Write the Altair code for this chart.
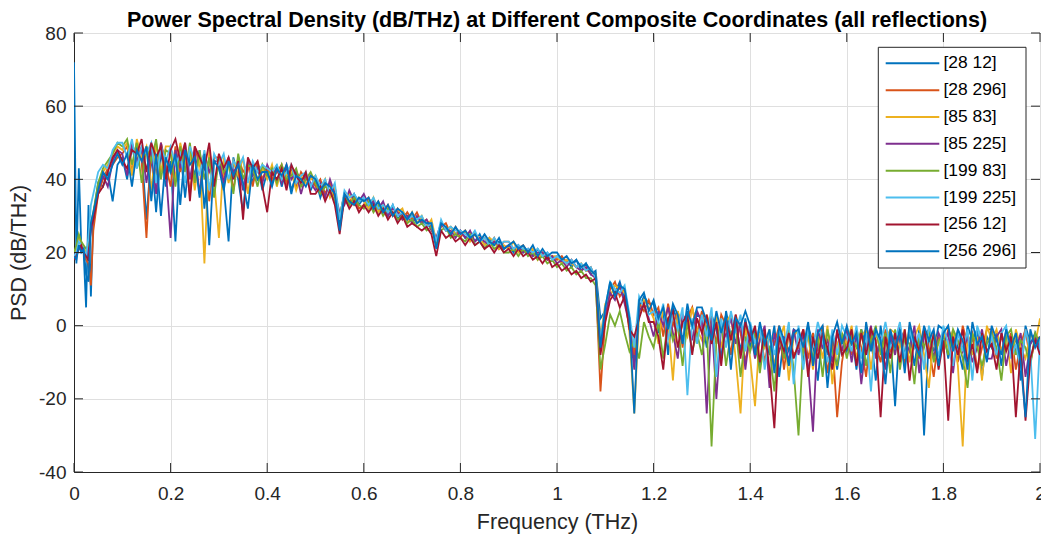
import altair as alt
import pandas as pd

NAMES = ["[28 12]", "[28 296]", "[85 83]", "[85 225]", "[199 83]", "[199 225]", "[256 12]", "[256 296]"]
COLORS = ["#0072BD", "#D95319", "#EDB120", "#7E2F8E", "#77AC30", "#4DBEEE", "#A2142F", "#0072BD"]

# frequency grid (THz): fine steps near DC, then 0.01 THz
FREQ = [round(i * 0.005, 3) for i in range(9)] + [round(0.05 + i * 0.01, 2) for i in range(196)]

X_TICKS = [0, 0.2, 0.4, 0.6, 0.8, 1.0, 1.2, 1.4, 1.6, 1.8, 2.0]
Y_TICKS = [-40, -20, 0, 20, 40, 60, 80]

# PSD values (dB/THz)
S1 = [72, 17, 43, 22, 20, 5, 33, 8, 30, 39, 38, 42, 34, 44,
      46, 40, 49, 43, 48, 29, 47, 31, 48, 38,
      45, 23, 48, 35, 47, 41, 48, 32, 46, 39,
      44, 38, 23, 46, 40, 31, 45, 39, 44, 37,
      42, 39, 44, 38, 43, 36, 42, 40, 41, 37,
      40, 35, 39, 36, 38, 27, 35, 33, 36, 33,
      35, 32, 34, 31, 33, 30, 33, 29, 31, 30,
      30, 28, 29, 27, 28, 22, 28, 26, 27, 25,
      26, 24, 25, 23, 25, 22, 24, 22, 23, 21,
      22, 20, 22, 20, 21, 19, 21, 19, 20, 18,
      19, 17, 18, 16, 18, 15, 17, 14, 15, 2,
      4, 11, 9, 12, 7, 2, -10, 5, 8, 6,
      6, -2, 4, -8, 5, 1, -4, 6, -1, 3,
      2, -6, 3, -1, -9, 4, -3, 1, -7, 2,
      -6, -1, -11, -2, -8, 0, -14, -3, -7, -1,
      -2, -10, 0, -5, -15, -1, -8, -2, -12, -3,
      -7, -2, -12, -1, -6, -3, -15, 0, -9, -2,
      -22, 0, -8, -2, -11, -1, -30, -3, -7, 0,
      -1, -9, -2, -6, -12, 0, -4, -1, -14, -3,
      -6, -2, -11, -1, -8, -3, -15, 0, -5, -2, -7]

S2 = [19, 20, 21, 22, 20, 18, 17, 11, 26, 36, 40, 43, 44, 46,
      47, 49, 42, 50, 45, 24, 49, 41, 50, 44,
      38, 49, 42, 48, 36, 49, 44, 47, 34, 46,
      46, 41, 45, 37, 46, 42, 44, 38, 45, 40,
      43, 40, 42, 44, 39, 43, 38, 42, 40, 41,
      38, 40, 36, 39, 35, 30, 36, 34, 35, 32,
      33, 35, 32, 34, 31, 33, 30, 32, 29, 31,
      29, 31, 28, 29, 27, 24, 27, 28, 25, 27,
      24, 26, 24, 25, 23, 24, 22, 24, 21, 23,
      23, 21, 21, 22, 20, 21, 19, 20, 18, 19,
      18, 19, 17, 18, 16, 17, 15, 16, 13, -18,
      2, 10, 12, 8, 10, 1, -8, 6, 4, 7,
      3, 5, -3, 6, 0, 4, -6, 2, 5, -2,
      4, -1, 2, -5, 3, 0, -8, 3, -2, -10,
      -2, -7, -1, -10, -3, -5, 0, -12, -2, -8,
      -6, -1, -9, -2, -7, 0, -13, -4, -25, -10,
      -2, -8, -1, -6, -14, -2, -5, -10, -1, -7,
      -5, -2, -11, 0, -4, -9, -1, -6, -14, -3,
      -7, -1, -4, -10, 0, -5, -2, -12, -6, -1,
      -1, -9, -3, -6, -2, -12, -5, -1, -10, -4, -3]

S3 = [20, 21, 24, 23, 21, 20, 22, 27, 30, 38, 42, 44, 47, 49,
      48, 50, 41, 51, 46, 49, 37, 50, 42, 49,
      49, 40, 50, 44, 48, 37, 47, 17, 48, 40,
      24, 46, 39, 45, 41, 46, 36, 44, 40, 43,
      40, 44, 38, 43, 41, 42, 37, 41, 39, 40,
      41, 37, 40, 35, 38, 29, 34, 36, 33, 35,
      34, 32, 35, 31, 33, 32, 30, 31, 32, 28,
      31, 28, 30, 27, 29, 23, 28, 26, 27, 25,
      25, 26, 23, 25, 24, 22, 24, 23, 21, 22,
      21, 23, 20, 21, 20, 21, 18, 20, 19, 19,
      19, 17, 18, 17, 16, 17, 15, 15, 14, -3,
      6, 8, 11, 10, 9, -2, -24, 3, 7, 5,
      2, -5, 5, 1, -15, 4, 0, -3, 5, -1,
      -4, 3, -1, 2, -6, 1, 3, -9, -24, 0,
      -9, -22, -2, -6, -1, -11, -4, 0, -15, -3,
      -1, -7, -3, -12, -2, -9, 0, -16, -5, -2,
      -5, 0, -9, -3, -1, -12, -2, -7, -4, -1,
      -2, -6, -1, -10, -3, 0, -8, -17, -2, -5,
      -2, -6, -1, -11, -33, -2, -8, -3, -15, 0,
      -4, -1, -7, -2, -13, -1, -6, -9, -2, -5, 2]

S4 = [19, 20, 22, 21, 20, 19, 21, 26, 29, 37, 41, 38, 45, 48,
      47, 41, 50, 45, 49, 39, 48, 36, 50, 43,
      24, 48, 43, 50, 40, 48, 36, 47, 42, 45,
      45, 39, 46, 42, 44, 37, 45, 41, 43, 39,
      44, 41, 43, 39, 44, 40, 42, 36, 41, 39,
      37, 39, 35, 40, 36, 31, 33, 37, 34, 34,
      36, 33, 34, 32, 34, 30, 32, 31, 29, 30,
      28, 30, 28, 29, 26, 24, 28, 26, 26, 24,
      26, 24, 26, 23, 24, 23, 22, 23, 22, 21,
      22, 21, 22, 20, 21, 19, 20, 20, 18, 19,
      17, 18, 16, 18, 16, 15, 16, 14, 13, -5,
      3, 9, 7, 11, 6, 0, -12, 4, 6, 2,
      -3, 4, 0, 5, -2, -9, 3, 1, -4, 4,
      1, -24, 2, -20, 0, -3, 2, -5, 1, -12,
      -1, -9, -4, 0, -17, -2, -7, -3, -10, -1,
      -8, -2, -11, -29, -1, -6, -4, -10, -2, -7,
      -1, -10, -2, -16, -5, 0, -9, -3, -12, -2,
      -8, -1, -4, -7, 0, -13, -3, -1, -9, -2,
      -5, -2, -13, -1, -7, -3, -10, -6, -1, -9,
      -9, -3, -1, -11, -4, -7, -2, -14, -5, -3, -6]

S5 = [20, 22, 25, 23, 22, 21, 22, 28, 31, 39, 43, 45, 47, 50,
      49, 51, 44, 50, 39, 49, 45, 51, 40, 48,
      47, 38, 49, 42, 50, 39, 48, 40, 46, 35,
      46, 42, 44, 36, 47, 40, 44, 43, 38, 44,
      41, 43, 39, 44, 40, 41, 43, 38, 40, 42,
      39, 36, 38, 37, 34, 30, 36, 33, 35, 33,
      32, 34, 31, 33, 30, 32, 31, 29, 30, 28,
      29, 27, 28, 26, 27, 22, 26, 27, 24, 25,
      24, 23, 25, 22, 23, 21, 23, 21, 22, 20,
      20, 21, 19, 21, 19, 20, 18, 19, 17, 18,
      16, 17, 15, 16, 14, 15, 13, 13, 11, -12,
      -5, 3, 0, 4, -2, -7, -4, -9, 1, -3,
      -6, 1, -9, 2, -4, 0, -11, 1, -7, -2,
      -8, 0, -33, -4, 1, -11, -2, 0, -14, -3,
      -7, -2, -13, -3, -6, -18, -2, -9, -1, -12,
      -30, -5, -2, -9, -3, -14, -1, -7, -11, -2,
      -9, -3, -6, -1, -11, -4, 0, -8, -2, -13,
      -1, -12, -3, -5, -16, -2, -6, -1, -10, -4,
      -3, -8, -1, -4, -9, -17, -2, -6, -11, -5,
      -2, -6, -15, -3, -1, -8, -4, -6, -11, -2, -5]

S6 = [19, 20, 23, 22, 21, 19, 24, 33, 36, 42, 44, 43, 48, 50,
      50, 46, 51, 43, 49, 47, 50, 39, 49, 45,
      49, 44, 47, 39, 49, 45, 41, 48, 37, 47,
      44, 47, 40, 45, 43, 46, 39, 45, 42, 44,
      43, 42, 44, 40, 42, 44, 39, 41, 42, 38,
      41, 38, 40, 36, 39, 29, 37, 35, 36, 34,
      35, 33, 35, 32, 33, 31, 33, 30, 31, 29,
      30, 29, 30, 27, 28, 23, 29, 26, 27, 26,
      26, 25, 24, 26, 23, 24, 22, 24, 22, 23,
      23, 21, 22, 21, 21, 20, 21, 19, 20, 18,
      19, 18, 17, 18, 16, 17, 15, 16, 13, -4,
      5, 12, 10, 9, 11, 3, -6, 8, 5, 3,
      4, 1, 6, -4, 3, -1, 5, -19, 2, -5,
      3, -3, 5, -14, 2, -6, 4, -2, 3, -7,
      1, -5, 0, -12, -2, -8, -1, -6, 1, -16,
      0, -12, -1, -6, 1, -4, -10, -1, -8, 0,
      -3, -7, 0, -9, -2, -18, -1, -5, 1, -6,
      -4, 1, -9, -1, -6, -2, -12, 0, -5, -8,
      0, -5, -11, -2, -7, -1, -15, 0, -4, -8,
      -3, -8, -2, 0, -9, -5, -12, -1, -7, -31, -4]

S7 = [18, 19, 21, 22, 20, 19, 18, 27, 29, 36, 38, 42, 46, 48,
      45, 43, 48, 47, 51, 42, 50, 46, 49, 40,
      48, 51, 45, 50, 34, 49, 46, 43, 50, 38,
      47, 43, 46, 40, 45, 29, 46, 43, 45, 38,
      31, 42, 40, 43, 37, 44, 41, 39, 42, 36,
      36, 38, 34, 37, 33, 25, 35, 32, 34, 31,
      33, 31, 33, 30, 32, 29, 31, 28, 30, 27,
      28, 27, 26, 27, 25, 19, 26, 24, 25, 23,
      24, 22, 24, 22, 23, 21, 22, 20, 22, 20,
      21, 19, 21, 19, 20, 18, 19, 17, 19, 16,
      17, 15, 16, 14, 15, 13, 14, 12, 13, -8,
      1, 7, 9, 5, 8, -1, -3, 2, 6, 1,
      1, -3, -12, 2, 4, -6, 1, 3, -8, 2,
      -2, 3, -5, 1, -11, 2, -4, 3, -9, 1,
      -4, 0, -10, -1, -12, -28, -3, -7, -2, -9,
      -5, -1, -14, -3, -9, -2, -6, -12, -1, -8,
      -6, -1, -11, -2, -8, -1, -4, -25, -3, -9,
      -2, -10, -1, -15, -3, -7, -1, -9, -2, -12,
      -4, -26, -3, -8, -1, -10, -5, -13, -2, -7,
      -5, -12, -2, -7, -3, -25, -6, -26, -9, -4, -8]

S8 = [19, 18, 22, 20, 21, 14, 12, 28, 31, 37, 42, 40, 44, 47,
      44, 47, 38, 48, 45, 49, 34, 47, 30, 46,
      42, 47, 33, 48, 44, 46, 35, 47, 22, 45,
      43, 37, 45, 41, 44, 39, 32, 44, 40, 42,
      42, 38, 43, 41, 44, 37, 41, 40, 38, 41,
      40, 37, 39, 38, 36, 26, 36, 34, 33, 35,
      34, 35, 32, 34, 31, 33, 30, 32, 31, 29,
      31, 28, 29, 28, 28, 21, 28, 27, 25, 27,
      25, 26, 24, 25, 23, 25, 23, 22, 24, 21,
      22, 23, 21, 22, 20, 22, 19, 21, 19, 20,
      20, 18, 19, 17, 18, 16, 17, 15, 14, -6,
      5, 12, 8, 11, 10, 2, -24, 7, 9, 4,
      7, 2, 5, -1, 6, 3, -5, 4, 0, 5,
      5, 1, -4, 4, -2, 3, -12, 2, 0, 4,
      0, -8, 1, -5, -1, -13, 0, -4, -11, -2,
      -1, -6, 1, -11, -2, 0, -17, -3, 1, -5,
      0, -5, -2, -13, 1, -7, -1, -4, -16, -1,
      -6, -1, -13, 1, -5, -8, 0, -4, -1, -11,
      -2, 0, -7, -1, -4, -12, 1, -5, -3, -10,
      0, -4, -8, -1, -6, -2, -10, -25, -1, -6, -3]

SERIES = [S1, S2, S3, S4, S5, S6, S7, S8]

rows = []
for name, vals in zip(NAMES, SERIES):
    for f, v in zip(FREQ, vals):
        rows.append({"f": f, "v": v, "s": name})
df = pd.DataFrame(rows)

FONT = "Liberation Sans"
W, H = 966, 439
INK = "#262626"

x_enc = alt.X("f:Q", scale=alt.Scale(domain=[0, 2], nice=False, zero=False),
              axis=alt.Axis(values=X_TICKS, title="Frequency (THz)", ticks=False, grid=True,
                            labelExpr="'' + datum.value", labelPadding=12, titlePadding=8,
                            labelFlush=False))
y_enc = alt.Y("v:Q", scale=alt.Scale(domain=[-40, 80], nice=False, zero=False),
              axis=alt.Axis(values=Y_TICKS, title="PSD (dB/THz)", ticks=False, grid=True,
                            labelExpr="'' + datum.value", labelPadding=8, titlePadding=8))
color_scale = alt.Scale(domain=NAMES, range=COLORS)

plot_layers = []
for name in NAMES:
    plot_layers.append(
        alt.Chart(df[df["s"] == name]).mark_line(strokeWidth=1.8, clip=True)
        .encode(x=x_enc, y=y_enc, color=alt.Color("s:N", scale=color_scale, legend=None))
    )

tx = pd.DataFrame({"f": X_TICKS})
ty = pd.DataFrame({"v": Y_TICKS})
tick_style = dict(color=INK, strokeWidth=1)
plot_layers.append(alt.Chart(tx).mark_rule(**tick_style).encode(x=x_enc, y=alt.value(H), y2=alt.value(H - 9)))
plot_layers.append(alt.Chart(tx).mark_rule(**tick_style).encode(x=x_enc, y=alt.value(0), y2=alt.value(9)))
plot_layers.append(alt.Chart(ty).mark_rule(**tick_style).encode(y=y_enc, x=alt.value(0), x2=alt.value(9)))
plot_layers.append(alt.Chart(ty).mark_rule(**tick_style).encode(y=y_enc, x=alt.value(W), x2=alt.value(W - 9)))

plot = alt.layer(*plot_layers)

# legend box drawn inside the axes (top right), MATLAB style
leg = pd.DataFrame({"s": NAMES})
leg_y = alt.Y("s:N", scale=alt.Scale(type="point", domain=NAMES, range=[30.3, 218.3], padding=0), axis=None)
box = alt.Chart(pd.DataFrame({"k": [0]})).mark_rect(fill="white", stroke=INK, strokeWidth=1).encode(
    x=alt.value(804.3), x2=alt.value(952), y=alt.value(14.3), y2=alt.value(235))
leg_lines = alt.Chart(leg).mark_rule(strokeWidth=2).encode(
    y=leg_y, x=alt.value(811.7), x2=alt.value(865.3),
    color=alt.Color("s:N", scale=color_scale, legend=None))
leg_text = alt.Chart(leg).mark_text(align="left", baseline="middle", font=FONT, fontSize=17.4,
                                    color="#000000").encode(y=leg_y, x=alt.value(869.5), text="s:N")
legend = alt.layer(box, leg_lines, leg_text)

chart = alt.layer(plot, legend).resolve_scale(y="independent").properties(
    width=W, height=H,
    title=alt.Title("Power Spectral Density (dB/THz) at Different Composite Coordinates (all reflections)",
                    anchor="middle", font=FONT, fontSize=21.5, fontWeight="bold", color="#000000",
                    offset=4, dy=11),
    padding={"left": 74, "top": 33, "right": 1, "bottom": 66},
    autosize=alt.AutoSizeParams(type="none"),
    background="white",
).configure_view(stroke=INK, strokeWidth=1).configure_axis(
    domainColor=INK, gridColor="#dfdfdf", gridWidth=1,
    labelColor=INK, titleColor=INK, labelFont=FONT, titleFont=FONT,
    labelFontSize=19, titleFontSize=21.5, titleFontWeight="normal",
)

chart.save("out.html", embed_options={"renderer": "svg", "actions": False})
